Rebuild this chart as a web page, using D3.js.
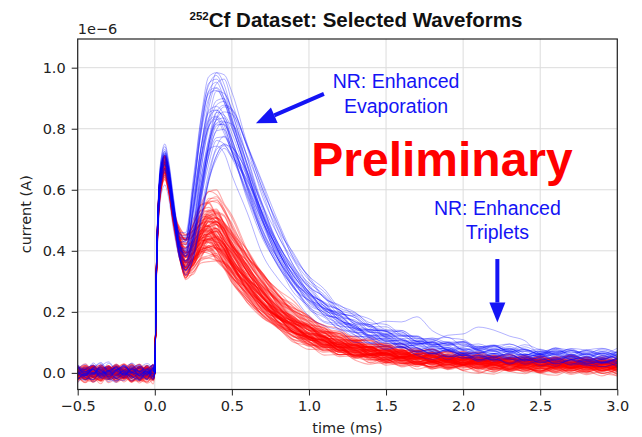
<!DOCTYPE html>
<html><head><meta charset="utf-8">
<script src="https://cdn.jsdelivr.net/npm/d3@7"></script>
<style>
html,body{margin:0;padding:0;background:#fff;}
svg{display:block;}
</style></head>
<body><svg id="c" width="642" height="437"></svg>
<script>
// ---- data ----
const timeMs = [-0.5,-0.45,-0.4,-0.35,-0.3,-0.25,-0.2,-0.15,-0.1,-0.05,-0.01,
  0.0,0.01,0.025,0.045,0.065,0.09,0.12,0.16,0.2,0.25,0.3,0.35,0.4,0.45,0.5,0.6,0.7,0.8,0.9,1.0,
  1.1,1.2,1.3,1.4,1.5,1.6,1.7,1.8,1.9,2.0,2.1,2.2,2.3,2.4,2.5,2.6,2.7,2.8,2.9,3.0];
const Z11 = [0,0,0,0,0,0,0,0,0,0,0];
const redShapeA = Z11.concat([0.0,0.32,0.56,0.66,0.69,0.64,0.53,0.42,0.37,0.42,0.47,0.47,0.44,0.40,0.355,0.28,0.22,0.175,0.14,0.115,
  0.097,0.083,0.072,0.063,0.056,0.05,0.045,0.041,0.038,0.035,0.033,0.031,0.029,0.028,0.027,0.026,0.025,0.024,0.023,0.022]);
const redShapeB = Z11.concat([0.0,0.32,0.56,0.66,0.69,0.64,0.53,0.42,0.36,0.38,0.43,0.47,0.47,0.44,0.40,0.32,0.255,0.2,0.16,0.13,
  0.108,0.092,0.08,0.07,0.062,0.056,0.05,0.046,0.042,0.039,0.036,0.034,0.032,0.031,0.03,0.029,0.028,0.027,0.026,0.025]);
const redShapeC = Z11.concat([0.0,0.32,0.56,0.66,0.69,0.64,0.53,0.43,0.39,0.41,0.44,0.46,0.46,0.44,0.40,0.34,0.28,0.225,0.185,0.15,
  0.125,0.106,0.091,0.079,0.069,0.061,0.055,0.05,0.046,0.042,0.039,0.036,0.034,0.032,0.031,0.03,0.029,0.028,0.027,0.026]);
const blueShapeA = Z11.concat([0.0,0.32,0.56,0.67,0.70,0.65,0.54,0.42,0.40,0.55,0.73,0.84,0.86,0.82,0.75,0.60,0.46,0.36,0.285,0.23,
  0.19,0.16,0.138,0.12,0.106,0.095,0.086,0.078,0.072,0.067,0.063,0.06,0.057,0.054,0.052,0.05,0.048,0.047,0.046,0.045]);
const blueShapeB = Z11.concat([0.0,0.32,0.56,0.67,0.70,0.65,0.54,0.41,0.38,0.47,0.64,0.78,0.86,0.86,0.80,0.66,0.52,0.41,0.32,0.26,
  0.215,0.18,0.153,0.132,0.116,0.103,0.093,0.085,0.078,0.072,0.067,0.063,0.06,0.057,0.055,0.053,0.051,0.049,0.048,0.047]);
const blueShapeC = Z11.concat([0.0,0.32,0.56,0.67,0.70,0.65,0.54,0.41,0.37,0.42,0.56,0.71,0.80,0.83,0.81,0.71,0.58,0.45,0.36,0.29,
  0.24,0.2,0.17,0.147,0.128,0.113,0.101,0.092,0.084,0.077,0.072,0.067,0.063,0.06,0.057,0.055,0.053,0.051,0.05,0.049]);
// weights of first peak / second bump / baseline-tail offset per time point
const w1 = Z11.concat([1,1,1,1,1,1,1,0.5,0,0,0,0,0,0,0,0,0,0,0,0, 0,0,0,0,0,0,0,0,0,0,0,0,0,0,0,0,0,0,0,0]);
const w2 = Z11.concat([0,0,0,0,0,0,0,0.5,1,1,1,1,1,1,1,1,1,1,1,1, 1,1,1,1,1,1,1,1,1,1,1,1,1,1,1,1,1,1,1,1]);
const wTail = [0.9,0.9,0.9,0.9,0.9,0.9,0.9,0.9,0.9,0.9,0.9,
  0,0,0,0,0,0,0,0,0,0,0,0,0,0,0.1,0.3,0.5,0.7,0.85,1,
  1,1,1,1,1,1,1,1,1,1,1,1,1,1,1,1,1,1,1,1];
const noiseAmp = [0.02,0.02,0.02,0.02,0.02,0.02,0.02,0.02,0.02,0.02,0.02,
  0,0.003,0.003,0.003,0.003,0.003,0.004,0.008,0.008,0.009,0.009,0.009,0.009,0.009,0.011,0.011,0.011,0.012,0.012,0.012,
  0.015,0.015,0.015,0.015,0.015,0.015,0.015,0.015,0.015,0.015,0.015,0.015,0.015,0.015,0.015,0.015,0.015,0.015,0.015,0.015];
const wiggle = [0.3,-0.5,0.8,-0.2,-0.9,0.4,0.1,-0.6,0.7,-0.3,0.5,-0.8,0.2,0.9,-0.4,-0.1,0.6,-0.7,0.3,-0.2,0.8,-0.5,-0.9,0.4,0.0,0.7,
  -0.3,0.5,-0.6,0.2,-0.8,0.9,-0.1,0.3,-0.4,0.6,-0.7,0.1,0.8,-0.2,-0.5,0.4,-0.9,0.2,0.7,-0.3,0.5,-0.6,0.0,0.9,-0.4];

// red waveforms: first peak scale, second bump scale, shape, tail offset
const redP1 = [1.0,0.97,1.02,0.95,0.99,1.03,0.93,0.98,1.01,0.96,1.0,0.94,1.02,0.99,0.97,1.03,0.95,1.0,0.98,0.92,1.01,0.97,0.99,1.02,
  0.96,1.0,0.94,0.98,1.03,0.97,1.0,0.95,0.99,1.01,0.96,0.98,1.02,0.93,1.0,0.97,0.99,1.01,0.95,0.98,1.03,0.96,1.0,0.97];
const redP2 = [1.00,0.92,1.12,0.85,1.05,1.20,0.95,0.88,1.10,1.02,0.83,1.15,0.97,1.08,0.90,1.25,
  1.00,0.93,1.06,0.86,1.18,0.98,1.03,0.91,1.13,0.96,0.82,1.07,1.00,0.94,1.22,0.89,
  1.04,0.99,1.10,0.87,1.01,0.95,1.16,0.92,1.05,0.84,1.09,0.97,1.00,1.12,0.90,1.03,
  0.96,1.08,0.88,1.14,0.93,1.01,0.86,1.19,0.99,1.06,0.91,1.11,0.95,1.27,0.89,1.04,
  0.98,1.15,0.87,1.02,0.94,1.09,0.80,1.07,1.00,0.92,1.13,0.96,1.05,0.90,1.17,0.97,
  1.03,0.85,1.10,0.99,0.93,1.21,0.88,1.06,1.01,0.95,1.12,0.91,1.04,0.97,1.08,0.94];
const redShape = [0,1,2,0,1,1,0,2,0,1,2,0,0,1,2,1, 1,0,2,0,0,1,2,0,1,0,2,1,0,1,1,2,
  1,0,2,0,0,1,2,0,1,2,1,1,0,2,1,0, 2,1,0,0,1,2,0,1,1,0,2,1,0,1,2,0,
  0,2,1,0,1,0,2,1,2,0,1,0,1,2,0,1, 1,0,2,1,0,1,0,2,0,1,2,0,1,1,0,2];
const redOffset = [0,-0.005,0.008,-0.012,0.004,0.01,-0.008,-0.015,0.006,0,-0.01,0.012,-0.003,0.005,-0.018,0.009,
  0.002,-0.006,0.007,-0.011,0.011,-0.002,0.004,-0.009,0.013,-0.004,-0.02,0.006,0.001,-0.007,0.01,-0.013,
  0.003,-0.001,0.008,-0.01,0.005,-0.005,0.012,-0.008,0.002,-0.016,0.007,-0.003,0,0.009,-0.012,0.004,
  -0.006,0.011,-0.002,0.006,-0.014,0.003,0.009,-0.009,0.001,-0.022,0.005,-0.004,0.014,-0.007,0.002,-0.011,
  0.007,-0.001,0.01,-0.015,0.004,-0.006,0.012,-0.003,0.008,-0.019,0.001,0.006,-0.008,0.015,-0.002,0.003,
  -0.012,0.009,-0.005,0.002,0.011,-0.017,0.004,-0.001,0.007,-0.009,0.013,-0.004,0.005,-0.013,0.001,0.008];

// blue waveforms
const blueP1 = [1.02,0.98,1.05,0.95,1.0,1.03,0.97,1.01,0.94,1.04,0.99,1.06,0.96,1.0,1.02,0.88,1.03,0.98,
  1.01,0.97,1.04,0.95,1.0,1.07,0.99,0.96,1.02,0.98,0.93,1.01,0.97,1.03,0.95,1.0,0.99,1.02];
const blueP2 = [1.15,0.95,1.08,0.88,1.00,1.12,0.92,1.04,0.90,1.10,0.97,1.05,0.87,1.13,0.99,0.93,1.07,1.01,
  0.90,1.14,0.96,1.03,0.89,1.09,0.94,1.00,1.06,0.98,1.11,0.91,1.02,0.95,1.08,0.88,1.04,0.97];
const blueShape = [0,1,0,1,2,0,1,2,1,0,1,2,0,0,1,2,1,0,2,1,0,1,2,0,1,0,2,0,1,2,0,1,0,2,1,0];
const blueOffset = [0.01,-0.008,0.015,-0.012,0.004,0.02,-0.005,0.008,-0.015,0.012,0,0.006,-0.01,0.018,-0.003,-0.009,0.01,0.002,
  -0.014,0.014,-0.006,0.007,-0.011,0.009,-0.002,0.003,0.011,-0.007,0.005,-0.004,0.016,-0.013,0.001,0.008,-0.006,0.012];
// extra late bumps ("triplets") on two blue waveforms
const bumpTrace = [0, 5];
const bumpA = Z11.concat([0,0,0,0,0,0,0,0,0,0,0,0,0,0,0,0,0,0,0,0, 0,0,0,0,0,0,0,0,0.02,0.045,0.06,0.07,0.045,0.02,0,0,0,0,0,0]);
const bumpB = Z11.concat([0,0,0,0,0,0,0,0,0,0,0,0,0,0,0,0,0,0,0,0, 0,0,0,0,0.02,0.045,0.06,0.04,0.015,0,0,0,0,0,0,0,0,0,0,0]);

const xTicks = [-0.5,0.0,0.5,1.0,1.5,2.0,2.5,3.0];
const yTicks = [0.0,0.2,0.4,0.6,0.8,1.0];

// ---- build waveform tables ----
function build(shapes, p1, p2, shp, off, extras, step, base) {
  return p2.map((b, k) => {
    const s = shapes[shp[k]];
    const a = p1[k % p1.length];
    const ex = extras[k];
    return timeMs.map((t, i) => [t,
      s[i] * (1 + (a - 1) * w1[i] + (b - 1) * w2[i]) + off[k] * wTail[i]
      + wiggle[(i + base + k * step) % wiggle.length] * noiseAmp[i] + (ex ? ex[i] : 0)]);
  });
}
const redWaves = build([redShapeA, redShapeB, redShapeC], redP1, redP2, redShape, redOffset, {}, 13, 0);
const blueExtras = {}; blueExtras[bumpTrace[0]] = bumpA; blueExtras[bumpTrace[1]] = bumpB;
const blueWaves = build([blueShapeA, blueShapeB, blueShapeC], blueP1, blueP2, blueShape, blueOffset, blueExtras, 11, 5);

// ---- drawing ----
const L = 77.7, R = 617.3, T = 39, B = 389.5;
const svg = d3.select("#c");
const x = d3.scaleLinear().domain([-0.5, 3.0]).range([L, R]);
const y = d3.scaleLinear().domain([-0.0545, 1.094]).range([B, T]);
const TF = "DejaVu Sans, sans-serif";
const HF = "Liberation Sans, Arial, Helvetica, sans-serif";

svg.append("g").selectAll("line").data(xTicks).join("line")
  .attr("x1", d => x(d)).attr("x2", d => x(d)).attr("y1", T).attr("y2", B)
  .attr("stroke", "#dcdcdc").attr("stroke-width", 1);
svg.append("g").selectAll("line").data(yTicks).join("line")
  .attr("x1", L).attr("x2", R).attr("y1", d => y(d)).attr("y2", d => y(d))
  .attr("stroke", "#dcdcdc").attr("stroke-width", 1);

svg.append("clipPath").attr("id", "clip").append("rect")
  .attr("x", L).attr("y", T).attr("width", R - L).attr("height", B - T);
const gen = d3.line().x(d => x(d[0])).y(d => y(d[1])).curve(d3.curveMonotoneX);
const plot = svg.append("g").attr("clip-path", "url(#clip)");
plot.append("g").selectAll("path").data(redWaves).join("path")
  .attr("d", gen).attr("fill", "none").attr("stroke", "rgb(255,0,0)")
  .attr("stroke-opacity", 0.33).attr("stroke-width", 1.1);
plot.append("g").selectAll("path").data(blueWaves).join("path")
  .attr("d", gen).attr("fill", "none").attr("stroke", "rgb(0,0,255)")
  .attr("stroke-opacity", 0.3).attr("stroke-width", 1);

const fmt = d => d3.format(".1f")(d).replace("-", "\u2212");
const xa = svg.append("g").attr("transform", `translate(0,${B})`)
  .call(d3.axisBottom(x).tickValues(xTicks).tickFormat(fmt).tickSize(6).tickPadding(5));
const ya = svg.append("g").attr("transform", `translate(${L},0)`)
  .call(d3.axisLeft(y).tickValues(yTicks).tickFormat(fmt).tickSize(6).tickPadding(6));
[xa, ya].forEach(g => {
  g.select(".domain").remove();
  g.selectAll("line").attr("stroke", "#222").attr("stroke-width", 1);
  g.selectAll("text").attr("font-family", TF).attr("font-size", 14.5).attr("fill", "#222");
});
svg.append("rect").attr("x", L).attr("y", T).attr("width", R - L).attr("height", B - T)
  .attr("fill", "none").attr("stroke", "#222").attr("stroke-width", 1.2);

svg.append("text").attr("x", (L + R) / 2).attr("y", 433).attr("text-anchor", "middle")
  .attr("font-family", TF).attr("font-size", 14.5).attr("fill", "#222").text("time (ms)");
svg.append("text").attr("transform", `translate(31,${(T + B) / 2}) rotate(-90)`).attr("text-anchor", "middle")
  .attr("font-family", TF).attr("font-size", 14.5).attr("fill", "#222").text("current (A)");
svg.append("text").attr("x", L).attr("y", 34).attr("font-family", TF).attr("font-size", 14.5)
  .attr("fill", "#222").text("1e\u22126");

const title = svg.append("text").attr("x", 356).attr("y", 27).attr("text-anchor", "middle")
  .attr("font-family", HF).attr("font-weight", "bold").attr("font-size", 20.5).attr("fill", "#111");
title.append("tspan").attr("font-size", 11.5).attr("dy", -7).text("252");
title.append("tspan").attr("dy", 7).text("Cf Dataset: Selected Waveforms");

// annotations (placed in data coordinates)
const blue = "#1414f5";
function ann(lines, t, vals) {
  lines.forEach((s, i) => svg.append("text").attr("x", x(t)).attr("y", y(vals[i]))
    .attr("text-anchor", "middle").attr("font-family", HF).attr("font-size", 19.5)
    .attr("fill", blue).text(s));
}
ann(["NR: Enhanced", "Evaporation"], 1.565, [0.935, 0.851]);
ann(["NR: Enhanced", "Triplets"], 2.222, [0.517, 0.438]);
function arrow(t1, v1, t2, v2, hl, hw) {
  const x1 = x(t1), y1 = y(v1), x2 = x(t2), y2 = y(v2);
  const a = Math.atan2(y2 - y1, x2 - x1);
  const bx = x2 - hl * Math.cos(a), by = y2 - hl * Math.sin(a);
  svg.append("line").attr("x1", x1).attr("y1", y1).attr("x2", bx).attr("y2", by)
    .attr("stroke", blue).attr("stroke-width", 4);
  const px = -Math.sin(a) * hw / 2, py = Math.cos(a) * hw / 2;
  svg.append("path").attr("d", `M${x2},${y2}L${bx + px},${by + py}L${bx - px},${by - py}Z`).attr("fill", blue);
}
arrow(1.097, 0.914, 0.656, 0.818, 20, 17);
arrow(2.222, 0.373, 2.222, 0.165, 20, 16);

svg.append("text").attr("x", x(1.863)).attr("y", y(0.644)).attr("text-anchor", "middle")
  .attr("font-family", HF).attr("font-weight", "bold").attr("font-size", 48)
  .attr("fill", "#ff0000").text("Preliminary");
</script></body></html>
